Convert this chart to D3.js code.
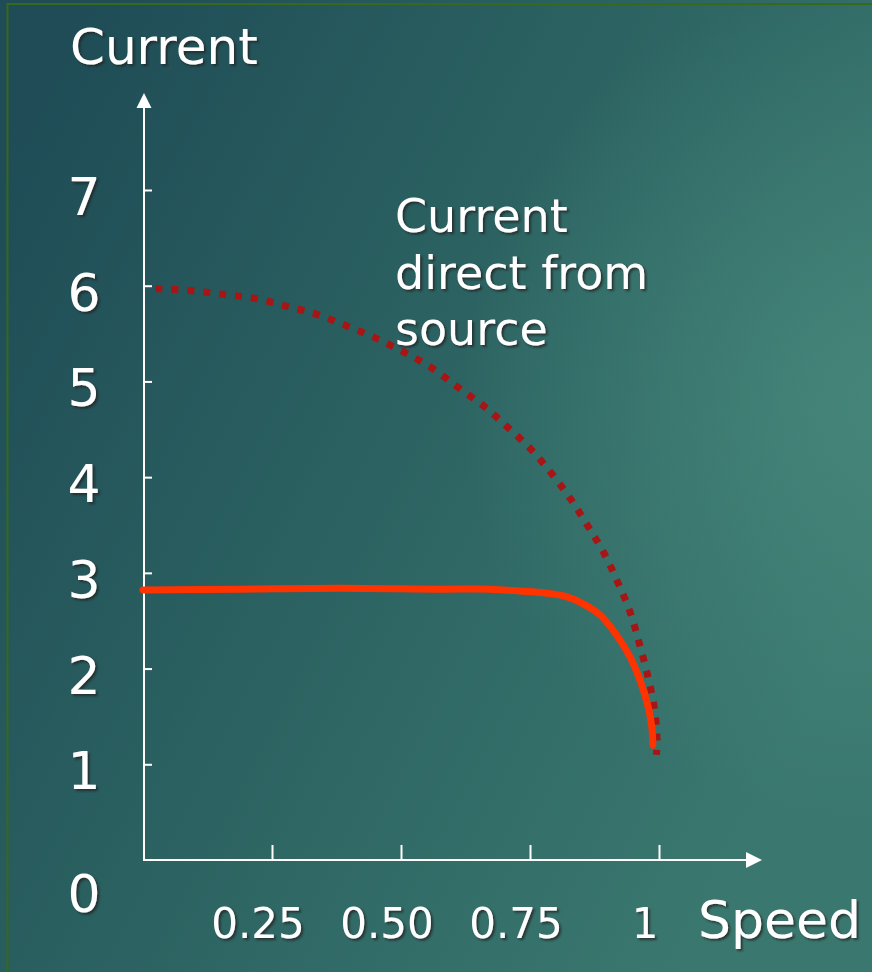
<!DOCTYPE html>
<html>
<head>
<meta charset="utf-8">
<script src="https://cdn.jsdelivr.net/npm/d3@7"></script>
<style>
  html, body { margin: 0; padding: 0; background: #2a5f60; }
  svg { display: block; }
  text { font-family: "DejaVu Sans", sans-serif; fill: #ffffff; }
</style>
</head>
<body>
<div id="chart"></div>
<script>
// ---- data ----
const yTicks = [1, 2, 3, 4, 5, 6, 7];
const yTickLabels = ["0", "1", "2", "3", "4", "5", "6", "7"];
const xTicks = [0.25, 0.5, 0.75, 1];
const xTickLabels = ["0.25", "0.50", "0.75", "1"];
const yTitle = "Current";
const xTitle = "Speed";
const noteLines = ["Current", "direct from", "source"];

// dotted curve: current drawn directly from source
const sourceSpeed   = [0.024, 0.091, 0.155, 0.215, 0.275, 0.337, 0.395, 0.452, 0.508, 0.560, 0.610, 0.661, 0.707, 0.752, 0.793, 0.829, 0.862, 0.893, 0.921, 0.944, 0.961, 0.977, 0.990, 0.996, 0.995];
const sourceCurrent = [5.97, 5.95, 5.91, 5.87, 5.79, 5.70, 5.58, 5.45, 5.30, 5.14, 4.94, 4.74, 4.52, 4.29, 4.03, 3.77, 3.49, 3.21, 2.89, 2.59, 2.28, 1.95, 1.62, 1.29, 1.10];

// solid curve: controlled current
const ctrlSpeed   = [0, 0.188, 0.382, 0.576, 0.672, 0.731, 0.779, 0.822, 0.862, 0.886, 0.911, 0.944, 0.963, 0.979, 0.986, 0.988];
const ctrlCurrent = [2.82, 2.83, 2.84, 2.83, 2.83, 2.81, 2.79, 2.75, 2.65, 2.56, 2.40, 2.12, 1.88, 1.60, 1.39, 1.20];

// ---- layout ----
const W = 872, H = 972;
const svg = d3.select("#chart").append("svg").attr("width", W).attr("height", H);
const defs = svg.append("defs");

const lg = defs.append("linearGradient").attr("id", "bgl")
  .attr("gradientUnits", "userSpaceOnUse")
  .attr("x1", 0).attr("y1", 150).attr("x2", 872).attr("y2", 600);
lg.append("stop").attr("offset", "0").attr("stop-color", "#1f4c56");
lg.append("stop").attr("offset", "0.5").attr("stop-color", "#2c6362");
lg.append("stop").attr("offset", "1").attr("stop-color", "#3a786f");

const rg = defs.append("radialGradient").attr("id", "bgr")
  .attr("gradientUnits", "userSpaceOnUse")
  .attr("cx", 880).attr("cy", 400).attr("r", 420);
rg.append("stop").attr("offset", "0").attr("stop-color", "#4a8c7e").attr("stop-opacity", 0.75);
rg.append("stop").attr("offset", "1").attr("stop-color", "#4a8c7e").attr("stop-opacity", 0);

const sh = defs.append("filter").attr("id", "shadow")
  .attr("x", "-10%").attr("y", "-10%").attr("width", "130%").attr("height", "140%");
sh.append("feDropShadow").attr("dx", 2).attr("dy", 2).attr("stdDeviation", 1.2)
  .attr("flood-color", "#222").attr("flood-opacity", 0.75);

svg.append("rect").attr("width", W).attr("height", H).attr("fill", "url(#bgl)");
svg.append("rect").attr("width", W).attr("height", H).attr("fill", "url(#bgr)");
svg.append("rect").attr("x", 7.5).attr("y", 4).attr("width", W + 20).attr("height", H + 20)
  .attr("fill", "none").attr("stroke", "#37691a").attr("stroke-width", 2);

const x = d3.scaleLinear().domain([0, 1]).range([143, 659]);
const y = d3.scaleLinear().domain([0, 7]).range([860, 190]);

// axes lines with arrows
const axisG = svg.append("g");
axisG.append("line").attr("x1", 144).attr("x2", 144).attr("y1", y(0) + 1).attr("y2", 106)
  .attr("stroke", "#fff").attr("stroke-width", 2);
axisG.append("path").attr("d", d3.line()([[144, 93], [136.5, 108], [151.5, 108]]) + "Z").attr("fill", "#fff");
axisG.append("line").attr("x1", 143).attr("x2", 748).attr("y1", y(0)).attr("y2", y(0))
  .attr("stroke", "#fff").attr("stroke-width", 2);
axisG.append("path").attr("d", d3.line()([[762, 860], [746, 852], [746, 868]]) + "Z").attr("fill", "#fff");

// ticks through d3 axes
const yAxis = svg.append("g").attr("transform", "translate(144,0)")
  .call(d3.axisRight(y).tickValues(yTicks).tickSize(8).tickFormat(""));
yAxis.select(".domain").remove();
yAxis.selectAll(".tick line").attr("stroke", "#fff").attr("stroke-width", 2);

const xAxis = svg.append("g").attr("transform", `translate(0,${y(0)})`)
  .call(d3.axisTop(x).tickValues(xTicks).tickSize(15).tickFormat(""));
xAxis.select(".domain").remove();
xAxis.selectAll(".tick line").attr("stroke", "#fff").attr("stroke-width", 2);

// curves
const line = d3.line().curve(d3.curveCatmullRom.alpha(0.5)).x(d => x(d[0])).y(d => y(d[1]));
svg.append("path")
  .attr("d", line(sourceSpeed.map((s, i) => [s, sourceCurrent[i]])))
  .attr("fill", "none").attr("stroke", "#a81515").attr("stroke-width", 7)
  .attr("stroke-dasharray", "7,9");
svg.append("path")
  .attr("d", line(ctrlSpeed.map((s, i) => [s, ctrlCurrent[i]])))
  .attr("fill", "none").attr("stroke", "#ff3300").attr("stroke-width", 7)
  .attr("stroke-linecap", "round").attr("stroke-linejoin", "round");

// text
const tg = svg.append("g").attr("filter", "url(#shadow)");
tg.append("text").attr("x", 70).attr("y", 64).attr("font-size", 50).text(yTitle);

tg.selectAll(".ylab").data(yTickLabels).enter().append("text")
  .attr("class", "ylab")
  .attr("x", 84).attr("text-anchor", "middle")
  .attr("y", d => y(+d) + (+d === 0 ? 33 : 6) + 19)
  .attr("font-size", 52)
  .text(d => d);

tg.selectAll(".xlab").data(xTickLabels).enter().append("text")
  .attr("class", "xlab")
  .attr("x", (d, i) => x(xTicks[i]) - 14).attr("text-anchor", "middle")
  .attr("y", 938)
  .attr("font-size", 42)
  .text(d => d);

tg.append("text").attr("x", 698).attr("y", 938).attr("font-size", 52).text(xTitle);

tg.selectAll(".note").data(noteLines).enter().append("text")
  .attr("class", "note")
  .attr("x", 395).attr("y", (d, i) => 232 + i * 56.5)
  .attr("font-size", 46)
  .text(d => d);
</script>
</body>
</html>
